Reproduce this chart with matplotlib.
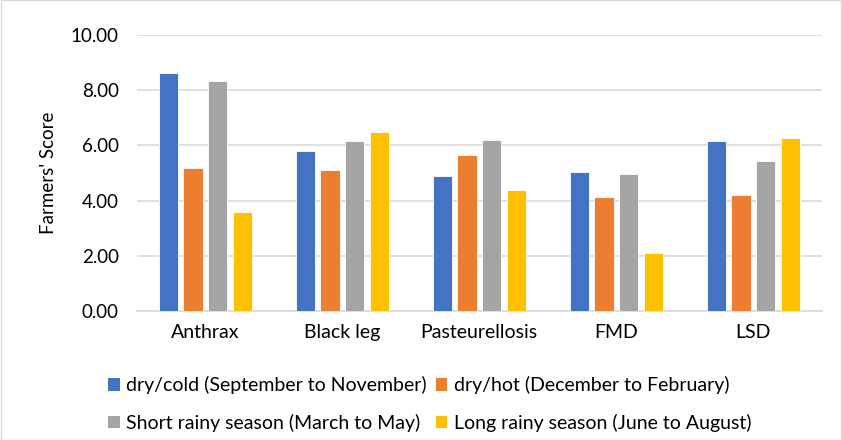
import numpy as np
import matplotlib.pyplot as plt
from matplotlib.patches import Patch, Rectangle

plt.rcParams['font.family'] = ['Lato', 'DejaVu Sans']

diseases = ["Anthrax", "Black leg", "Pasteurellosis", "FMD", "LSD"]
series_names = [
    "dry/cold (September to November)",
    "dry/hot (December to February)",
    "Short rainy season (March to May)",
    "Long rainy season (June to August)",
]
dry_cold = [8.60, 5.80, 4.88, 5.04, 6.15]
dry_hot = [5.18, 5.10, 5.64, 4.12, 4.19]
short_rainy = [8.31, 6.16, 6.18, 4.97, 5.42]
long_rainy = [3.60, 6.49, 4.38, 2.12, 6.25]
colors = ["#4472C4", "#ED7D31", "#A5A5A5", "#FFC000"]

values = [dry_cold, dry_hot, short_rainy, long_rainy]

fig = plt.figure(figsize=(8.42, 4.4), dpi=100)
ax = fig.add_axes([0.1624, 0.293, 0.8136, 0.628])

x = np.arange(len(diseases))
width = 0.141
pitch = 0.18
for i, (vals, c) in enumerate(zip(values, colors)):
    ax.bar(x + (i - 1.5) * pitch, vals, width, color=c, edgecolor="white",
           linewidth=0.6, zorder=3)

ax.set_xlim(-0.5, len(diseases) - 0.5)
ax.set_ylim(0, 10)
ticks = np.arange(0, 10.01, 2)
ax.set_yticks(ticks)
ax.set_yticklabels([f"{v:.2f}" for v in ticks], fontsize=13.5)
ax.set_xticks(x)
ax.set_xticklabels(diseases, fontsize=14)
ax.tick_params(length=0)
ax.tick_params(axis="x", pad=9)
ax.tick_params(axis="y", pad=13)
ax.grid(axis="y", color="#D9D9D9", linewidth=1.2, zorder=0)
for s in ["top", "right", "left"]:
    ax.spines[s].set_visible(False)
ax.spines["bottom"].set_color("#D9D9D9")
ax.spines["bottom"].set_linewidth(1.2)
ax.set_ylabel("Farmers' Score", fontsize=13.5, labelpad=10)

# legend is filled column-wise, so reorder to get Excel's row-wise layout
order = [0, 2, 1, 3]
handles = [Patch(facecolor=colors[k], label=series_names[k]) for k in order]
fig.legend(handles=handles, loc="upper left", bbox_to_anchor=(0.112, 0.176),
           ncol=2, frameon=False, fontsize=14, handlelength=0.6,
           handleheight=0.6, handletextpad=0.35, columnspacing=0.45,
           labelspacing=1.0, borderpad=0.2)

fig.patches.append(Rectangle((0.001, 0.001), 0.998, 0.998, transform=fig.transFigure,
                             fill=False, edgecolor="#D9D9D9", linewidth=1))

fig.savefig("out.png", dpi=100)
